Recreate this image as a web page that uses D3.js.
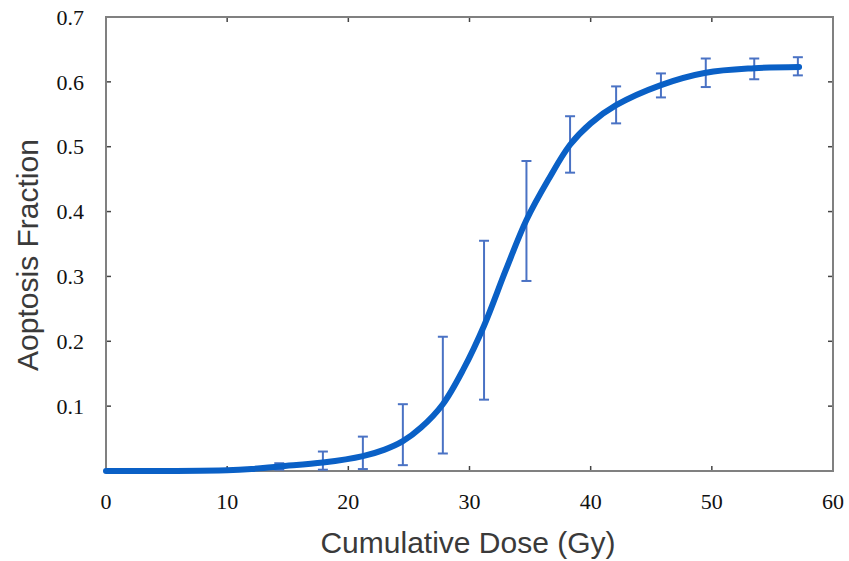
<!DOCTYPE html>
<html>
<head>
<meta charset="utf-8">
<script src="https://cdn.jsdelivr.net/npm/d3@7"></script>
<style>
  body { margin: 0; background: #fff; }
</style>
</head>
<body>
<div id="chart"></div>
<script>
// fitted curve
var curveDose = [0, 5, 10, 12, 14.3, 17.9, 21.2, 23, 24.5, 26, 27.8, 29.5, 31.2, 33, 34.7, 36.5, 38.3, 40, 42.1, 45.8, 49.5, 53.5, 57.2];
var curveFrac = [0.000, 0.000, 0.001, 0.003, 0.007, 0.013, 0.023, 0.033, 0.046, 0.067, 0.103, 0.157, 0.224, 0.31, 0.387, 0.449, 0.503, 0.536, 0.564, 0.595, 0.614, 0.621, 0.623];

// error bars
var barDose = [14.3, 17.9, 21.2, 24.5, 27.8, 31.2, 34.7, 38.3, 42.1, 45.8, 49.5, 53.5, 57.1];
var barHigh = [0.012, 0.030, 0.053, 0.103, 0.207, 0.355, 0.478, 0.547, 0.593, 0.613, 0.636, 0.636, 0.638];
var barLow  = [0.002, 0.002, 0.003, 0.009, 0.027, 0.110, 0.293, 0.460, 0.536, 0.576, 0.592, 0.604, 0.610];

var xTicks = [0, 10, 20, 30, 40, 50, 60];
var yTicks = [0.1, 0.2, 0.3, 0.4, 0.5, 0.6, 0.7];

var width = 849, height = 561;
var margin = {top: 17, right: 16, bottom: 90, left: 106};

var svg = d3.select('#chart').append('svg')
  .attr('width', width)
  .attr('height', height);

var x = d3.scaleLinear().domain([0, 60]).range([margin.left, width - margin.right]);
var y = d3.scaleLinear().domain([0, 0.7]).range([height - margin.bottom, margin.top]);

var x0 = x.range()[0], x1 = x.range()[1], y0 = y.range()[0], y1 = y.range()[1];

// ticks, pointing inward on all four sides
var tickLen = 5;
var ticks = svg.append('g').attr('stroke', '#444').attr('stroke-width', 1.5);
xTicks.slice(1, -1).forEach(function(t) {
  ticks.append('line').attr('x1', x(t)).attr('x2', x(t)).attr('y1', y0).attr('y2', y0 - tickLen);
  ticks.append('line').attr('x1', x(t)).attr('x2', x(t)).attr('y1', y1).attr('y2', y1 + tickLen);
});
yTicks.slice(0, -1).forEach(function(t) {
  ticks.append('line').attr('x1', x0).attr('x2', x0 + tickLen).attr('y1', y(t)).attr('y2', y(t));
  ticks.append('line').attr('x1', x1).attr('x2', x1 - tickLen).attr('y1', y(t)).attr('y2', y(t));
});

// frame
svg.append('rect')
  .attr('x', x0).attr('y', y1)
  .attr('width', x1 - x0).attr('height', y0 - y1)
  .attr('fill', 'none')
  .attr('stroke', '#808080')
  .attr('stroke-width', 2);

// tick labels
svg.append('g').selectAll('text')
  .data(xTicks).enter().append('text')
  .attr('x', function(d) { return x(d); })
  .attr('y', y0 + 38)
  .attr('text-anchor', 'middle')
  .style('font-family', '"Liberation Serif", "Times New Roman", serif')
  .style('font-size', '22px')
  .attr('fill', '#111')
  .text(function(d) { return d; });

svg.append('g').selectAll('text')
  .data(yTicks).enter().append('text')
  .attr('x', x0 - 22)
  .attr('y', function(d) { return y(d); })
  .attr('dy', '0.35em')
  .attr('text-anchor', 'end')
  .style('font-family', '"Liberation Serif", "Times New Roman", serif')
  .style('font-size', '22px')
  .attr('fill', '#111')
  .text(function(d) { return d3.format('.1f')(d); });

// axis titles
svg.append('text')
  .attr('x', 468)
  .attr('y', 553)
  .attr('text-anchor', 'middle')
  .style('font-family', '"Liberation Sans", Arial, sans-serif')
  .style('font-size', '30px')
  .attr('fill', '#3a3a3a')
  .text('Cumulative Dose (Gy)');

svg.append('text')
  .attr('transform', 'translate(38,255) rotate(-90)')
  .attr('text-anchor', 'middle')
  .style('font-family', '"Liberation Sans", Arial, sans-serif')
  .style('font-size', '30px')
  .attr('fill', '#3a3a3a')
  .text('Aoptosis Fraction');

// error bars
var capW = 5;
var bars = svg.append('g')
  .attr('stroke', '#4a72c4')
  .attr('stroke-width', 2);

barDose.forEach(function(d, i) {
  var bx = x(d);
  bars.append('line').attr('x1', bx).attr('x2', bx).attr('y1', y(barLow[i])).attr('y2', y(barHigh[i]));
  bars.append('line').attr('x1', bx - capW).attr('x2', bx + capW).attr('y1', y(barLow[i])).attr('y2', y(barLow[i]));
  bars.append('line').attr('x1', bx - capW).attr('x2', bx + capW).attr('y1', y(barHigh[i])).attr('y2', y(barHigh[i]));
});

// fitted curve
var pts = curveDose.map(function(d, i) { return [d, curveFrac[i]]; });
var line = d3.line()
  .x(function(d) { return x(d[0]); })
  .y(function(d) { return y(d[1]); })
  .curve(d3.curveCatmullRom.alpha(0.5));

svg.append('path')
  .datum(pts)
  .attr('d', line)
  .attr('fill', 'none')
  .attr('stroke', '#0a60c6')
  .attr('stroke-width', 6)
  .attr('stroke-linecap', 'round');
</script>
</body>
</html>
